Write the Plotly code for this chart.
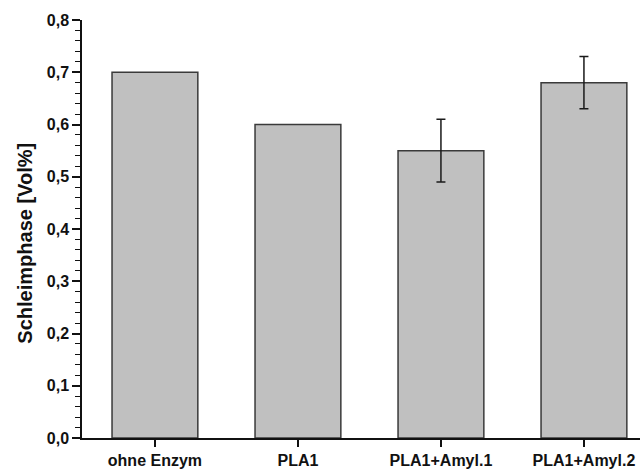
import plotly.graph_objects as go

# Sample groups and measured slime-phase volume fractions
categories = ["ohne Enzym", "PLA1", "PLA1+Amyl.1", "PLA1+Amyl.2"]
values = [0.70, 0.60, 0.55, 0.68]
errors = [None, None, 0.06, 0.05]
y_ticks = [0.0, 0.1, 0.2, 0.3, 0.4, 0.5, 0.6, 0.7, 0.8]
y_title = "Schleimphase [Vol%]"

font_family = "Arial, Liberation Sans, sans-serif"
positions = list(range(len(categories)))

fig = go.Figure()

fig.add_trace(
    go.Bar(
        x=positions,
        y=values,
        width=0.6,
        marker=dict(color="#c0c0c0", line=dict(color="#3a3a3a", width=1.5)),
        showlegend=False,
        hoverinfo="skip",
    )
)

# Error bars only for the groups that have a measured spread
err_idx = [i for i, e in enumerate(errors) if e is not None]
fig.add_trace(
    go.Scatter(
        x=[positions[i] for i in err_idx],
        y=[values[i] for i in err_idx],
        mode="markers",
        marker=dict(size=0.1, color="rgba(0,0,0,0)"),
        error_y=dict(
            type="data",
            array=[errors[i] for i in err_idx],
            visible=True,
            color="#1a1a1a",
            thickness=1.5,
            width=4.5,
        ),
        showlegend=False,
        hoverinfo="skip",
    )
)

fig.update_layout(
    width=640,
    height=469,
    margin=dict(l=82, r=0, t=20, b=31),
    paper_bgcolor="white",
    plot_bgcolor="white",
    separators=",.",
    font=dict(family=font_family, color="#111111"),
    xaxis=dict(
        range=[-0.51, 3.392],
        tickmode="array",
        tickvals=positions,
        ticktext=categories,
        showline=True,
        linecolor="#111111",
        linewidth=1.5,
        ticks="outside",
        ticklen=7,
        tickwidth=1.5,
        tickcolor="#111111",
        showgrid=False,
        zeroline=False,
        tickfont=dict(size=16, weight="bold", family=font_family),
    ),
    yaxis=dict(
        range=[0, 0.8],
        tickmode="array",
        tickvals=y_ticks,
        tickformat=".1f",
        showline=True,
        linecolor="#111111",
        linewidth=1.5,
        ticks="outside",
        ticklen=8,
        tickwidth=1.5,
        tickcolor="#111111",
        minor=dict(
            dtick=0.02,
            tick0=0,
            ticks="outside",
            ticklen=5,
            tickwidth=1.2,
            tickcolor="#111111",
        ),
        showgrid=False,
        zeroline=False,
        tickfont=dict(size=16, weight="bold", family=font_family),
    ),
    annotations=[
        dict(
            text=y_title,
            textangle=-90,
            xref="paper",
            yref="paper",
            x=0,
            y=0.465,
            xshift=-57,
            xanchor="center",
            yanchor="middle",
            showarrow=False,
            font=dict(size=20, weight="bold", family=font_family, color="#111111"),
        )
    ],
)

fig.write_html("out.html")
